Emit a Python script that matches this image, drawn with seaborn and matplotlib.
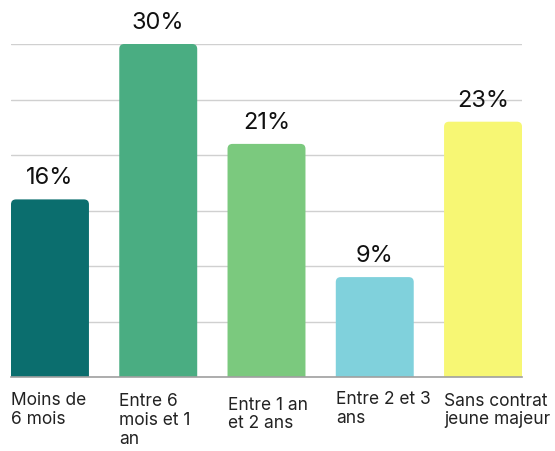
import matplotlib
matplotlib.use("Agg")
import matplotlib.pyplot as plt
import seaborn as sns
import pandas as pd
from matplotlib.patches import FancyBboxPatch

# Data
categories = ["Moins de\n6 mois", "Entre 6\nmois et 1\nan", "Entre 1 an\net 2 ans",
              "Entre 2 et 3\nans", "Sans contrat\njeune majeur"]
values = [16, 30, 21, 9, 23]
value_labels = ["16%", "30%", "21%", "9%", "23%"]
colors = ["#0b6e6e", "#4aad82", "#7bc97e", "#80d1dc", "#f7f774"]
# small vertical shifts of the category labels, as in the reference
label_shift = [-10, -11, -13.5, -9.5, -10.5]

df = pd.DataFrame({"cat": categories, "val": values})

sns.set_theme(style="white")
plt.rcParams["font.family"] = ["Inter", "DejaVu Sans"]

fig = plt.figure(figsize=(5.55, 4.52), dpi=100)
ax = fig.add_axes([11 / 555, 74 / 452, 511 / 555, 333 / 452])

sns.barplot(data=df, x="cat", y="val", hue="cat", palette=colors,
            width=0.72, saturation=1, legend=False, ax=ax, zorder=2)

ax.set_xlim(-0.36, 4.36)
ax.set_ylim(0, 30)

# rounded tops: replace the rectangles with rounded boxes (bottom gets clipped)
x_per_px = 4.72 / 511
y_per_px = 30 / 333
for patch in list(ax.patches):
    x0, w, h = patch.get_x(), patch.get_width(), patch.get_height()
    fc = patch.get_facecolor()
    patch.remove()
    box = FancyBboxPatch((x0, -2), w, h + 2,
                         boxstyle="round,pad=0,rounding_size=%f" % (5 * x_per_px),
                         mutation_aspect=y_per_px / x_per_px,
                         facecolor=fc, edgecolor="none", zorder=2)
    ax.add_patch(box)

# value labels
for i, v in enumerate(values):
    ax.annotate(value_labels[i], (i, v), xytext=(0, 8), textcoords="offset points",
                ha="center", va="bottom", fontsize=17, color="#111111",
                annotation_clip=False)

# category labels, left aligned under each bar
for i, c in enumerate(categories):
    ax.annotate(c, (i - 0.36, 0), xytext=(0, label_shift[i]), textcoords="offset points",
                ha="left", va="top", fontsize=12.5, color="#222222",
                linespacing=1.13, annotation_clip=False)

ax.set_yticks([0, 5, 10, 15, 20, 25, 30])
ax.yaxis.grid(True, color="#d0d0d0", linewidth=1, zorder=0)
ax.set_axisbelow(True)
ax.set_xticks([])
ax.set_yticklabels([])
ax.tick_params(left=False, bottom=False)
ax.set_xlabel("")
ax.set_ylabel("")
for s in ["top", "right", "left"]:
    ax.spines[s].set_visible(False)
ax.spines["bottom"].set_color("#a0a0a0")
ax.spines["bottom"].set_linewidth(1.2)
ax.spines["bottom"].set_zorder(3)

fig.savefig("out.png", dpi=100)
